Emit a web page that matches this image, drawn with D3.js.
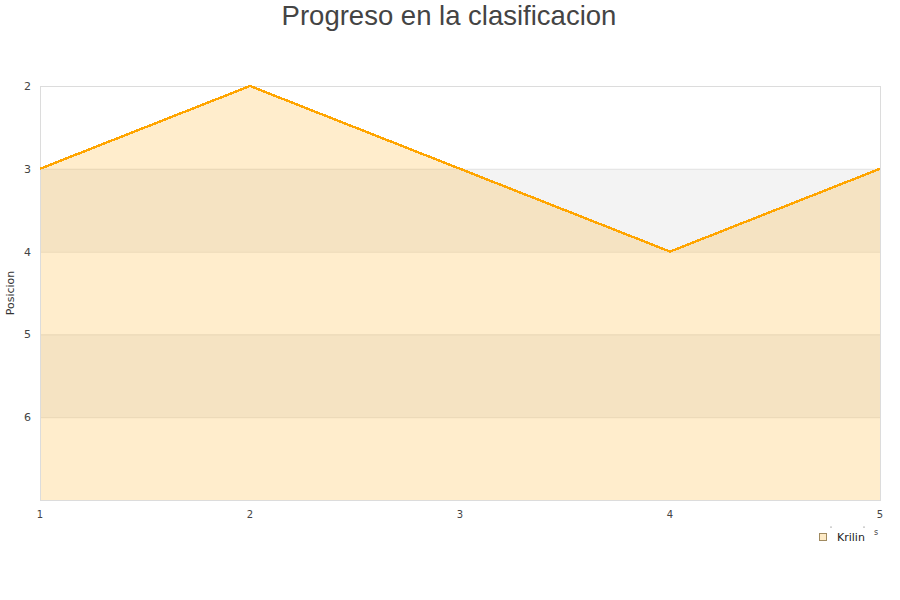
<!DOCTYPE html>
<html><head><meta charset="utf-8">
<script src="https://cdn.jsdelivr.net/npm/d3@7"></script>
<style>body{margin:0;background:#fff}svg{display:block}</style>
</head><body>
<svg id="c" width="900" height="600"></svg>
<script>
const jornadas = [1, 2, 3, 4, 5];
const posiciones = [3, 2, 3, 4, 3];
const seriesName = "Krilin";
const yTicks = [2, 3, 4, 5, 6];
const title = "Progreso en la clasificacion";
const yLabel = "Posicion";

const svg = d3.select("#c");
const m = {l: 40, r: 20, t: 86, b: 100};
const W = 900, H = 600;
const x = d3.scaleLinear().domain([1, 5]).range([m.l, W - m.r]);
const y = d3.scaleLinear().domain([2, 7]).range([m.t, H - m.b]);
const font = "DejaVu Sans, sans-serif";

// alternating bands
const bands = [[3, 4], [5, 6]];
svg.selectAll("rect.band").data(bands).enter().append("rect")
  .attr("x", x(1)).attr("width", x(5) - x(1))
  .attr("y", d => y(d[0])).attr("height", d => y(d[1]) - y(d[0]))
  .attr("fill", "#f3f3f3");

// grid lines
svg.selectAll("line.grid").data([3, 4, 5, 6]).enter().append("line")
  .attr("x1", x(1)).attr("x2", x(5))
  .attr("y1", d => y(d) + 0.5).attr("y2", d => y(d) + 0.5)
  .attr("stroke", "#e3e3e3");

// area
const data = jornadas.map((j, i) => ({x: j, y: posiciones[i]}));
svg.append("path").datum(data)
  .attr("d", d3.area().x(d => x(d.x)).y0(y(7)).y1(d => y(d.y)))
  .attr("fill", "rgba(255,165,0,0.2)");

// border
svg.append("rect").attr("x", x(1) + 0.5).attr("y", y(2) + 0.5)
  .attr("width", x(5) - x(1)).attr("height", y(7) - y(2))
  .attr("fill", "none").attr("stroke", "#dcdcdc");

// line
svg.append("path").datum(data)
  .attr("d", d3.line().x(d => x(d.x)).y(d => y(d.y)))
  .attr("fill", "none").attr("stroke", "#ffa500").attr("stroke-width", 2.4)
  .attr("shape-rendering", "crispEdges");

// y ticks
svg.selectAll("text.yt").data(yTicks).enter().append("text")
  .attr("x", 31).attr("y", d => y(d) + 4).attr("text-anchor", "end")
  .attr("font-family", font).attr("font-size", 11).attr("fill", "#444")
  .text(d => d);

// x ticks
svg.selectAll("text.xt").data(jornadas).enter().append("text")
  .attr("x", d => x(d)).attr("y", 518).attr("text-anchor", "middle")
  .attr("font-family", font).attr("font-size", 10).attr("fill", "#444")
  .text(d => d);

// y label
svg.append("text").attr("transform", "translate(14,293) rotate(-90)")
  .attr("text-anchor", "middle").attr("font-family", font).attr("font-size", 11)
  .attr("fill", "#333").text(yLabel);

// title
svg.append("text").attr("x", 449).attr("y", 25).attr("text-anchor", "middle")
  .attr("font-family", "Liberation Sans, Arial, sans-serif").attr("font-size", 27.5)
  .attr("fill", "#444").text(title);

// legend
svg.append("rect").attr("x", 819.5).attr("y", 533.5).attr("width", 7).attr("height", 7)
  .attr("fill", "#fdeac6").attr("stroke", "#a08a60");
svg.append("text").attr("x", 837).attr("y", 541).attr("font-family", font)
  .attr("font-size", 11).attr("fill", "#222").text(seriesName);
svg.append("text").attr("x", 874).attr("y", 535).attr("font-family", font)
  .attr("font-size", 8).attr("fill", "#444").text("s");
svg.selectAll("circle.dot").data([831, 864]).enter().append("circle")
  .attr("cx", d => d).attr("cy", 527).attr("r", 0.6).attr("fill", "#555");
</script>
</body></html>
